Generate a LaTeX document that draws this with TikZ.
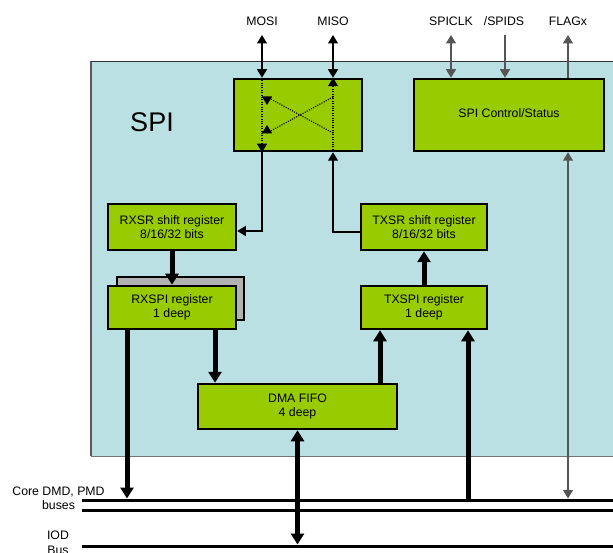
\documentclass[tikz,border=0pt]{standalone}
\usepackage{fontspec}
\setmainfont{Liberation Sans}
\usetikzlibrary{arrows.meta}
\definecolor{panelblue}{HTML}{BBE0E3}
\definecolor{boxgreen}{HTML}{99CC00}
\definecolor{shadowgray}{HTML}{B2B2B2}
\definecolor{wiregray}{HTML}{555555}
\begin{document}
\begin{tikzpicture}[x=1pt,y=-1pt,
  box/.style={draw=black, line width=2.5pt, fill=boxgreen, inner sep=0pt, align=center, font=\fontsize{12.3}{14}\selectfont},
  lbl/.style={inner sep=0pt, align=center, font=\fontsize{12.3}{14.5}\selectfont},
  wire/.style={line width=1.2pt, draw=black},
  gwire/.style={line width=1.2pt, draw=wiregray},
  dotwire/.style={line width=1.1pt, draw=black, dash pattern=on 1.1pt off 1.3pt},
  sarrow/.style={-{Triangle[width=10pt,length=8.5pt]}},
  darrow/.style={{Triangle[width=10pt,length=8.5pt]}-{Triangle[width=10pt,length=8.5pt]}},
  fat/.style={line width=5pt, draw=black},
  farrow/.style={-{Triangle[width=13pt,length=11pt]}},
  fdarrow/.style={{Triangle[width=13pt,length=11pt]}-{Triangle[width=13pt,length=11pt]}},
  bus/.style={line width=3pt, draw=black}
]
\useasboundingbox (0,0) rectangle (613,553);
% panel
\fill[panelblue] (91,61) rectangle (620,456);
\draw[black!80, line width=0.9pt] (620,61) -- (91,61);
\draw[black!65, line width=1.8pt] (91,61) -- (91,456);
\draw[black!55, line width=0.9pt] (91,456) -- (620,456);
\node[inner sep=0pt, font=\fontsize{27}{30}\selectfont] (spi) at (152,122) {SPI};

% boxes
\node[box, minimum width=128pt, minimum height=72pt] (mux) at (298,115) {};
\node[box, minimum width=190pt, minimum height=72pt] (ctrl) at (509,115) {\raisebox{3pt}{SPI Control/Status}};
\node[box, fill=shadowgray, minimum width=127pt, minimum height=43pt] (shadow) at (180.5,298.5) {};
\node[box, minimum width=128pt, minimum height=46pt] (rxsr) at (172,227) {RXSR shift register\\8/16/32 bits};
\node[box, minimum width=128pt, minimum height=43pt] (rxspi) at (172,307.5) {RXSPI register\\1 deep};
\node[box, minimum width=126pt, minimum height=46pt] (txsr) at (424,227) {TXSR shift register\\8/16/32 bits};
\node[box, minimum width=126pt, minimum height=43pt] (txspi) at (424,307.5) {TXSPI register\\1 deep};
\node[box, minimum width=199pt, minimum height=45pt] (dma) at (297.5,406.5) {DMA FIFO\\4 deep};

% pin labels
\node[lbl] (lmosi) at (262,21) {MOSI};
\node[lbl] (lmiso) at (333,21) {MISO};
\node[lbl] (lclk) at (451,21) {SPICLK};
\node[lbl] (lds) at (504,21) {/SPIDS};
\node[lbl] (lflag) at (568,21) {FLAGx};
\coordinate (mosiT) at (262,35);
\coordinate (misoT) at (333,35);
\coordinate (clkT) at (451,35);
\coordinate (dsT) at (505,35);
\coordinate (flagT) at (568,35);

% pin connectors
\draw[wire, darrow] (mosiT) -- (mosiT |- mux.north);
\draw[wire, darrow] (misoT) -- (misoT |- mux.north);
\draw[gwire, darrow] (clkT) -- (clkT |- ctrl.north);
\draw[gwire, sarrow] (dsT) -- (dsT |- ctrl.north);
\draw[gwire, sarrow] (flagT |- ctrl.north) -- (flagT);

% inside the mux
\coordinate (xa) at (333,97);
\coordinate (xb) at (267,133);
\coordinate (xbt) at (267,125);
\coordinate (xc) at (333,133);
\coordinate (xd) at (267,97);
\coordinate (xdt) at (267,105);
\draw[dotwire, sarrow] (mosiT |- mux.north) -- (mosiT |- mux.south);
\draw[dotwire, sarrow] (misoT |- mux.south) -- (misoT |- mux.north);
\draw[dotwire, sarrow] (xa) -- (xb) -- (xbt);
\draw[dotwire, sarrow] (xc) -- (xd) -- (xdt);

% mux to shift registers
\draw[wire, sarrow] (mosiT |- mux.south) |- ([yshift=-4pt]rxsr.east);
\draw[wire, sarrow] ([yshift=-5pt]txsr.west) -| (misoT |- mux.south);

% columns and buses
\coordinate (colA) at (127,0);
\coordinate (colB) at (215,0);
\coordinate (colC) at (380,0);
\coordinate (colD) at (468,0);
\coordinate (colE) at (568,0);
\coordinate (bus1L) at (82,500);
\coordinate (bus1R) at (613,500);
\coordinate (bus2L) at (82,510);
\coordinate (bus2R) at (613,510);
\coordinate (iodL) at (82,546);
\coordinate (iodR) at (613,546);
\draw[bus] (bus1L) -- (bus1R);
\draw[bus] (bus2L) -- (bus2R);
\draw[bus] (iodL) -- (iodR);
\node[lbl] (lcore) at (58.5,498.5) {Core DMD, PMD\\buses};
\node[lbl] (liod) at (58,543) {IOD\\Bus};

% thick data paths
\draw[fat, farrow] (rxsr.south) -- (rxspi.north);
\draw[fat, farrow] (txspi.north) -- (txsr.south);
\draw[fat, farrow] (rxspi.south -| colB) -- (dma.north -| colB);
\draw[fat, farrow] (dma.north -| colC) -- (txspi.south -| colC);
\draw[fat, farrow] (rxspi.south -| colA) -- ([yshift=1.5pt]colA |- bus1L);
\draw[fat, farrow] ([yshift=1.5pt]colD |- bus1L) -- (txspi.south -| colD);
\draw[fat, fdarrow] (dma.south) -- ([yshift=1.5pt]dma.south |- iodL);
\draw[gwire, darrow] (ctrl.south -| colE) -- ([yshift=1.5pt]colE |- bus1L);
\end{tikzpicture}
\end{document}
